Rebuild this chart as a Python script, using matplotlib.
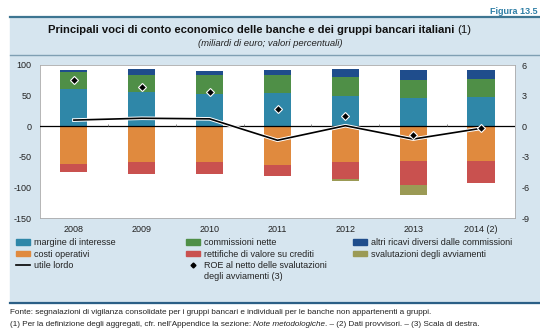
import numpy as np
import matplotlib
matplotlib.use('Agg')
import matplotlib.pyplot as plt
import matplotlib.patheffects as pe
from matplotlib.patches import Patch
from matplotlib.lines import Line2D

plt.rcParams['font.family'] = ['Liberation Sans', 'DejaVu Sans']
plt.rcParams['axes.unicode_minus'] = False

# conto economico, miliardi di euro
anni = ['2008', '2009', '2010', '2011', '2012', '2013', '2014 (2)']
margine = [60, 56, 53, 54, 50, 45.5, 47]
commissioni = [28, 27, 30, 30, 30, 30, 30.5]
altri_ricavi = [4, 11, 8, 8, 14, 16.5, 14.5]
costi = [-61, -58, -59, -63, -58.5, -57.5, -57.5]
rettifiche = [-14, -20, -18.5, -18, -28.5, -38.5, -34.5]
svalutazioni = [0, 0, 0, 0, -2, -17, -1.5]
utile_lordo = [10, 13, 12, -23, 0.8, -21, -3.5]
# ROE, valori percentuali (scala di destra)
roe = [4.5, 3.8, 3.4, 1.7, 1.0, -0.9, -0.2]

c_marg = '#2f87a8'
c_comm = '#4f8f47'
c_altri = '#1f4d8c'
c_costi = '#e08a3e'
c_rett = '#c9514f'
c_sval = '#9b9a55'
bg = '#d6e5ef'
dark = '#3d7591'

fig = plt.figure(figsize=(5.4, 3.36), dpi=100)
fig.patch.set_facecolor('white')

# sfondo azzurro del riquadro
fig.patches.append(plt.Rectangle((10/540, 1-303/336), 530/540, (303-17)/336,
                                 transform=fig.transFigure, color=bg, zorder=-5))
fig.lines.append(Line2D([10/540, 1], [1-17/336]*2, transform=fig.transFigure, color=dark, lw=1.6))
fig.lines.append(Line2D([10/540, 1], [1-55/336]*2, transform=fig.transFigure, color='#7f9fb3', lw=1.0))
fig.lines.append(Line2D([10/540, 1], [1-303/336]*2, transform=fig.transFigure, color='#2b5f86', lw=1.6))

fig.text(537/540, 1-11/336, 'Figura 13.5', ha='right', va='center', fontsize=6.5,
         fontweight='bold', color='#2f7fa6')
t1 = fig.text(48/540, 1-30/336, 'Principali voci di conto economico delle banche e dei gruppi bancari italiani ',
              ha='left', va='center', fontsize=8.1, fontweight='bold', color='#111111')
fig.text(0.5, 1-43/336, '(miliardi di euro; valori percentuali)', ha='center', va='center',
         fontsize=6.8, style='italic', color='#222222')

ax = fig.add_axes([40/540, 1-218/336, 475/540, 153/336])
ax.set_facecolor('white')
x = np.arange(len(anni))
w = 0.4

ax.bar(x, margine, w, color=c_marg, zorder=2)
ax.bar(x, commissioni, w, bottom=margine, color=c_comm, zorder=2)
ax.bar(x, altri_ricavi, w, bottom=np.add(margine, commissioni), color=c_altri, zorder=2)
ax.bar(x, costi, w, color=c_costi, zorder=2)
ax.bar(x, rettifiche, w, bottom=costi, color=c_rett, zorder=2)
ax.bar(x, svalutazioni, w, bottom=np.add(costi, rettifiche), color=c_sval, zorder=2)

ax.axhline(0, color='black', lw=0.9, zorder=3)
ax.vlines(x[:-1] + 0.5, 0, 4, color='#777777', lw=0.6, zorder=3)

ax.plot(x, utile_lordo, color='black', lw=1.2, zorder=4,
        path_effects=[pe.Stroke(linewidth=2.6, foreground='white'), pe.Normal()])

ax.set_xlim(-0.5, len(anni) - 0.5)
ax.set_ylim(-150, 100)
ax.set_yticks([-150, -100, -50, 0, 50, 100])
ax.set_xticks(x)
ax.set_xticklabels(anni)
ax.tick_params(length=0, labelsize=6.5, colors='#222222')
ax.tick_params(axis='x', pad=5)
ax.tick_params(axis='y', pad=6)
for s in ax.spines.values():
    s.set_color('#aaaaaa')
    s.set_linewidth(0.6)

ax2 = ax.twinx()
ax2.set_ylim(-9, 6)
ax2.set_yticks([-9, -6, -3, 0, 3, 6])
ax2.tick_params(length=0, labelsize=6.5, colors='#222222', pad=5)
for s in ax2.spines.values():
    s.set_visible(False)
ax2.plot(x, roe, linestyle='none', marker='D', markersize=4, color='black',
         markeredgecolor='white', markeredgewidth=0.8, zorder=5)

# legenda su tre colonne, ciascuna posizionata a mano
cols = [
    ([Patch(color=c_marg), Patch(color=c_costi), Line2D([], [], color='black', lw=1.2)],
     ['margine di interesse', 'costi operativi', 'utile lordo'], 16),
    ([Patch(color=c_comm), Patch(color=c_rett),
      Line2D([], [], linestyle='none', marker='D', markersize=2.5, color='black')],
     ['commissioni nette', 'rettifiche di valore su crediti',
      'ROE al netto delle svalutazioni'], 186),
    ([Patch(color=c_altri), Patch(color=c_sval)],
     ['altri ricavi diversi dalle commissioni', 'svalutazioni degli avviamenti'], 353),
]
legs = []
for h, l, xl in cols:
    leg = fig.legend(h, l, loc='upper left', bbox_to_anchor=(xl/540, 1-238/336),
                     frameon=False, fontsize=6.5, handlelength=1.5, handleheight=0.6,
                     handletextpad=0.5, labelspacing=0.3, labelcolor='#222222',
                     borderaxespad=0, borderpad=0)
    legs.append(leg)

fig.text(10/540, 1-313/336,
         'Fonte: segnalazioni di vigilanza consolidate per i gruppi bancari e individuali per le banche non appartenenti a gruppi.',
         ha='left', va='center', fontsize=5.9, color='#222222')

fig.canvas.draw()
r = fig.canvas.get_renderer()

# seconda riga della voce ROE, sotto la prima
roe_txt = legs[1].get_texts()[2].get_window_extent(r)
fig.text(roe_txt.x0 / fig.bbox.width, (roe_txt.y0 - 11) / fig.bbox.height,
         'degli avviamenti (3)', ha='left', va='bottom', fontsize=6.5, color='#222222')

# seconda riga delle note, con parte in corsivo
parts = [('(1) Per la definizione degli aggregati, cfr. nell\u2019Appendice la sezione: ', 'normal'),
         ('Note metodologiche', 'italic'),
         ('. \u2013 (2) Dati provvisori. \u2013 (3) Scala di destra.', 'normal')]
xp = 10 / 540
for s, st in parts:
    t = fig.text(xp, 1-325/336, s, ha='left', va='center', fontsize=5.9, style=st, color='#222222')
    bb = t.get_window_extent(r)
    xp += bb.width / fig.bbox.width

# "(1)" in tondo dopo il titolo
bb = t1.get_window_extent(r)
fig.text(bb.x1 / fig.bbox.width, 1-30/336, '(1)', ha='left', va='center', fontsize=8.1, color='#111111')

fig.savefig('out.png', dpi=100, facecolor=fig.get_facecolor())
